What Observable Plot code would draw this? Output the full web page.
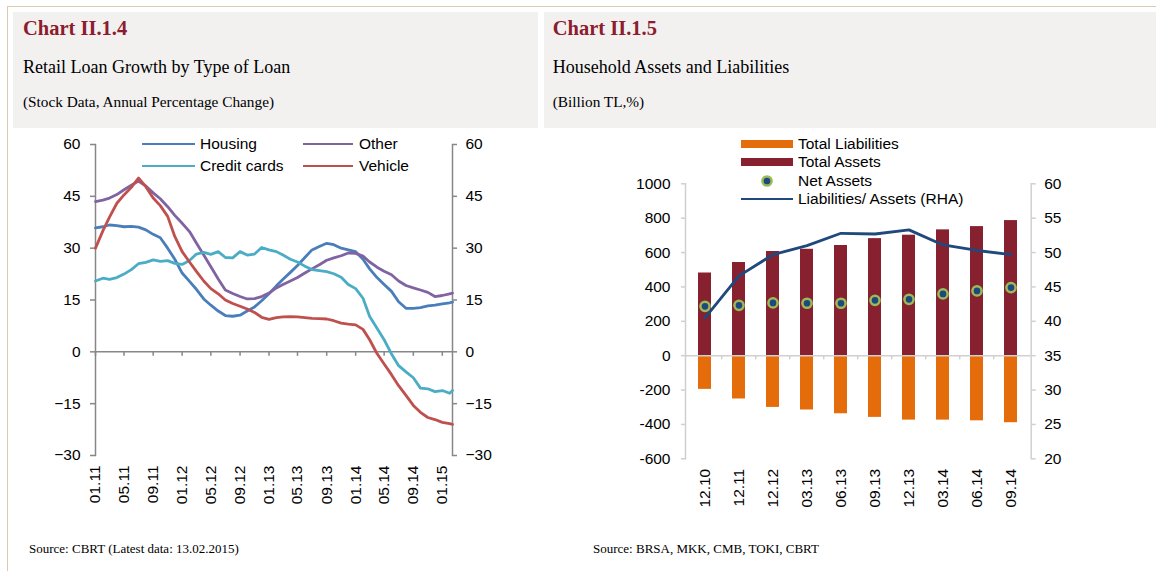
<!DOCTYPE html>
<html><head><meta charset="utf-8">
<script src="https://cdn.jsdelivr.net/npm/d3@7"></script>
<script src="https://cdn.jsdelivr.net/npm/@observablehq/plot@0.6"></script>
<style>
body{margin:0;background:#fff;}
#page{position:relative;width:1156px;height:571px;overflow:hidden;font-family:"Liberation Sans",Arial,sans-serif;}
.bt{position:absolute;left:7px;top:6px;width:1149px;height:0;border-top:1px solid #d8cbae;z-index:5;}
.bl{position:absolute;left:7px;top:6px;width:0;height:565px;border-left:1px solid #d8cbae;z-index:5;}
.head{position:absolute;top:12px;height:116px;background:#f2f1f0;font-family:"Liberation Serif","Times New Roman",serif;color:#000;}
.head div{position:absolute;white-space:nowrap;}
.t1{top:5.8px;font-size:20.5px;line-height:20.5px;font-weight:bold;color:#8c1c2e;}
.t2{top:45.9px;font-size:18px;line-height:18px;}
.t3{top:82.2px;font-size:15.3px;line-height:15.3px;}
.src{position:absolute;top:542px;font-family:"Liberation Serif","Times New Roman",serif;font-size:13px;line-height:13px;white-space:nowrap;}
.chart{position:absolute;top:130px;}
.lg{position:absolute;font-size:15.5px;line-height:18px;white-space:nowrap;color:#000;z-index:6;}
.sw{position:absolute;z-index:6;}
</style>
</head><body>
<div id="page">
  <div class="bt"></div><div class="bl"></div>
  <div class="head" style="left:13px;width:525px;">
    <div class="t1" style="left:10px;">Chart II.1.4</div>
    <div class="t2" style="left:10px;">Retail Loan Growth by Type of Loan</div>
    <div class="t3" style="left:10px;">(Stock Data, Annual Percentage Change)</div>
  </div>
  <div class="head" style="left:544px;width:612px;">
    <div class="t1" style="left:8.7px;">Chart II.1.5</div>
    <div class="t2" style="left:8.7px;">Household Assets and Liabilities</div>
    <div class="t3" style="left:8.7px;">(Billion TL,%)</div>
  </div>
  <div id="leftChart" class="chart" style="left:0px;"></div>
  <div id="rightChart" class="chart" style="left:540px;"></div>
  <div id="legends"></div>
  <div class="src" style="left:29px;">Source: CBRT (Latest data: 13.02.2015)</div>
  <div class="src" style="left:593px;">Source: BRSA, MKK, CMB, TOKI, CBRT</div>
</div>
<script>
// ---------- Chart II.1.4 data (monthly readings, last point = 13.02.2015) ----------
const loanSeries = ["Housing", "Other", "Credit cards", "Vehicle"];
const loanColors = ["#4a7ebb", "#8064a2", "#4bacc6", "#c0504d"];
const lastDate = "2015-02-13";
const housing = [35.9,36.2,36.7,36.5,36.2,36.3,36.1,35.3,34.0,33.0,
  30.0,26.8,22.8,20.4,18.1,15.3,13.5,11.8,10.5,10.3,
  10.6,11.8,13.0,14.8,16.8,19.1,21.0,23.0,25.0,27.3,
  29.5,30.5,31.4,31.0,30.0,29.5,29.0,26.8,24.0,21.5,
  19.5,17.5,14.5,12.6,12.6,12.8,13.3,13.5,13.9,14.2,14.4];
const other = [43.5,43.9,44.5,45.5,46.9,48.2,49.4,48.0,46.0,44.3,
  42.0,39.5,37.2,34.8,31.5,28.0,24.6,21.1,17.9,16.9,
  16.0,15.3,15.4,16.0,17.0,18.5,19.5,20.5,21.5,22.8,
  24.0,25.2,26.5,27.2,27.8,28.6,28.5,27.7,26.0,24.5,
  23.3,22.3,20.5,19.2,18.5,17.9,17.2,16.0,16.3,16.8,17.0];
const creditCards = [20.5,21.3,21.0,21.5,22.5,23.8,25.5,25.9,26.6,26.2,
  26.4,25.6,25.3,26.4,28.3,28.8,28.2,29.0,27.3,27.2,
  29.0,28.0,28.3,30.2,29.5,29.0,28.0,26.8,26.0,24.8,
  23.8,23.5,23.2,22.6,21.6,19.5,18.3,15.5,10.2,6.8,
  3.5,-0.6,-4.0,-5.8,-7.5,-10.5,-10.7,-11.5,-11.2,-12.0,-11.2];
const vehicle = [30.0,35.0,39.0,43.0,45.4,47.6,50.3,47.8,44.5,42.3,
  39.2,33.4,29.0,26.0,23.3,20.5,18.3,16.8,15.0,14.0,
  13.2,12.4,11.4,10.0,9.4,9.9,10.1,10.2,10.1,9.9,
  9.7,9.6,9.5,9.0,8.3,8.0,7.8,6.5,3.5,-0.5,
  -3.5,-6.6,-9.8,-12.6,-15.5,-17.5,-19.0,-19.6,-20.4,-20.8,-21.0];
const loanYTicks = [-30, -15, 0, 15, 30, 45, 60];

// ---------- Chart II.1.5 data ----------
const periods = ["12.10","12.11","12.12","03.13","06.13","09.13","12.13","03.14","06.14","09.14"];
const totalAssets = [481, 542, 606, 619, 641, 681, 701, 732, 751, 786];
const totalLiabilities = [-196, -252, -301, -316, -338, -359, -375, -375, -379, -390];
const netAssets = [287, 293, 307, 305, 305, 322, 328, 359, 377, 396];
const liabToAssets = [40.5, 46.6, 49.7, 51.0, 52.8, 52.7, 53.3, 51.1, 50.3, 49.7];
const hhLeftTicks = [-600, -400, -200, 0, 200, 400, 600, 800, 1000];
const hhRightTicks = [20, 25, 30, 35, 40, 45, 50, 55, 60];

// ---------- build left chart ----------
const start = new Date(Date.UTC(2011, 0, 1));
const end = new Date(lastDate + "T00:00:00Z");
const dates = [...d3.utcMonths(start, new Date(Date.UTC(2015, 1, 2))), end];
const seriesVals = [housing, other, creditCards, vehicle];
const loanRows = [];
loanSeries.forEach((s, k) => seriesVals[k].forEach((v, i) => loanRows.push({series: s, date: dates[i], value: v})));
const xTicks = d3.utcMonth.every(4).range(start, end);
const gray = "#878787";
const fontStyle = {fontFamily: "'Liberation Sans', Arial, sans-serif", fontSize: "15.5px", color: "#000", background: "transparent", overflow: "visible"};

const left = Plot.plot({
  width: 540, height: 390,
  marginLeft: 95, marginRight: 88, marginTop: 14, marginBottom: 65,
  style: fontStyle,
  x: {type: "utc", domain: [start, end]},
  y: {domain: [-30, 60]},
  color: {domain: loanSeries, range: loanColors},
  marks: [
    Plot.frame({anchor: "left", stroke: gray, strokeWidth: 1.5}),
    Plot.frame({anchor: "right", stroke: gray, strokeWidth: 1.5}),
    Plot.ruleY([0], {stroke: gray, strokeWidth: 1.5}),
    Plot.ruleX(xTicks, {x: d => d, y1: 0, y2: -1.3, stroke: gray, strokeWidth: 1.5}),
    Plot.axisY({anchor: "left", ticks: loanYTicks, tickSize: 5, tickPadding: 10, stroke: gray, strokeWidth: 1.5, label: null}),
    Plot.axisY({anchor: "right", ticks: loanYTicks, tickSize: 4, tickPadding: 9, stroke: gray, strokeWidth: 1.5, label: null}),
    Plot.axisX({ticks: xTicks, tickFormat: d3.utcFormat("%m.%y"), tickRotate: -90, tickSize: 0, tickPadding: 10, label: null}),
    Plot.lineY(loanRows, {x: "date", y: "value", stroke: "series", strokeWidth: 2.8, strokeLinejoin: "round"})
  ]
});
document.getElementById("leftChart").appendChild(left);

// ---------- build right chart ----------
const hhRows = periods.map((p, i) => ({period: p, assets: totalAssets[i], liab: totalLiabilities[i], net: netAssets[i], ratio: liabToAssets[i]}));
const toLeft = r => (r - 35) * 40;  // right axis (%) mapped onto the left axis
const lgray = "#d0d0d0";
const right = Plot.plot({
  width: 616, height: 390,
  marginLeft: 145, marginRight: 125.3, marginTop: 53.3, marginBottom: 61.7,
  style: fontStyle,
  x: {type: "band", domain: periods, paddingInner: 0.62, paddingOuter: 0.31},
  y: {domain: [-600, 1000]},
  marks: [
    Plot.barY(hhRows, {x: "period", y: "liab", fill: "#e46c0a"}),
    Plot.barY(hhRows, {x: "period", y: "assets", fill: "#87202f"}),
    Plot.frame({anchor: "left", stroke: lgray, strokeWidth: 1.5}),
    Plot.frame({anchor: "right", stroke: lgray, strokeWidth: 1.5}),
    Plot.ruleY([0], {stroke: lgray, strokeWidth: 1.5}),
    Plot.ruleX(periods.slice(1), {x: d => d, y1: 0, y2: -24, dx: -17.28, stroke: lgray, strokeWidth: 1.5}),
    Plot.axisY({anchor: "left", ticks: hhLeftTicks, tickFormat: d => String(d), tickSize: 4, tickPadding: 11, stroke: lgray, strokeWidth: 1.5, label: null}),
    Plot.axisY({anchor: "right", ticks: hhRightTicks.map(toLeft), tickFormat: v => String(Math.round(v / 40 + 35)), tickSize: 4, tickPadding: 9, stroke: lgray, strokeWidth: 1.5, label: null}),
    Plot.axisX({tickRotate: -90, tickSize: 0, tickPadding: 10, label: null}),
    Plot.line(hhRows, {x: "period", y: d => toLeft(d.ratio), stroke: "#1f497d", strokeWidth: 2.8, strokeLinejoin: "round"}),
    Plot.dot(hhRows, {x: "period", y: "net", r: 4.6, fill: "#1f497d", stroke: "#9bbb59", strokeWidth: 2.5})
  ]
});
document.getElementById("rightChart").appendChild(right);

// ---------- legends (overlay) ----------
const lg = document.getElementById("legends");
function add(html) { lg.insertAdjacentHTML("beforeend", html); }
function label(text, x, yc) { add(`<div class="lg" style="left:${x}px;top:${yc - 8.9}px;">${text}</div>`); }
function lineSw(color, x1, x2, yc, w) { add(`<div class="sw" style="left:${x1}px;top:${yc - w / 2}px;width:${x2 - x1}px;height:${w}px;background:${color};"></div>`); }
// left legend
const lgPos = [[142, 195, 200, 144], [303, 353, 359, 144], [142, 195, 200, 166], [303, 353, 359, 166]];
const order = ["Housing", "Other", "Credit cards", "Vehicle"];
order.forEach((s, i) => {
  const [a, b, tx, y] = lgPos[i];
  lineSw(loanColors[loanSeries.indexOf(s)], a, b, y, 2.8);
  label(s, tx, y);
});
// right legend
add(`<div class="sw" style="left:741px;top:140px;width:52px;height:8px;background:#e46c0a;"></div>`);
label("Total Liabilities", 798, 144);
add(`<div class="sw" style="left:741px;top:158px;width:52px;height:8px;background:#87202f;"></div>`);
label("Total Assets", 798, 162.3);
add(`<svg class="sw" style="left:759px;top:173px;" width="16" height="16"><circle cx="8" cy="8" r="4.6" fill="#1f497d" stroke="#9bbb59" stroke-width="2.5"/></svg>`);
label("Net Assets", 798, 180.7);
lineSw("#1f497d", 741, 793, 199, 2.8);
label("Liabilities/ Assets (RHA)", 798, 199);
</script>
</body></html>
